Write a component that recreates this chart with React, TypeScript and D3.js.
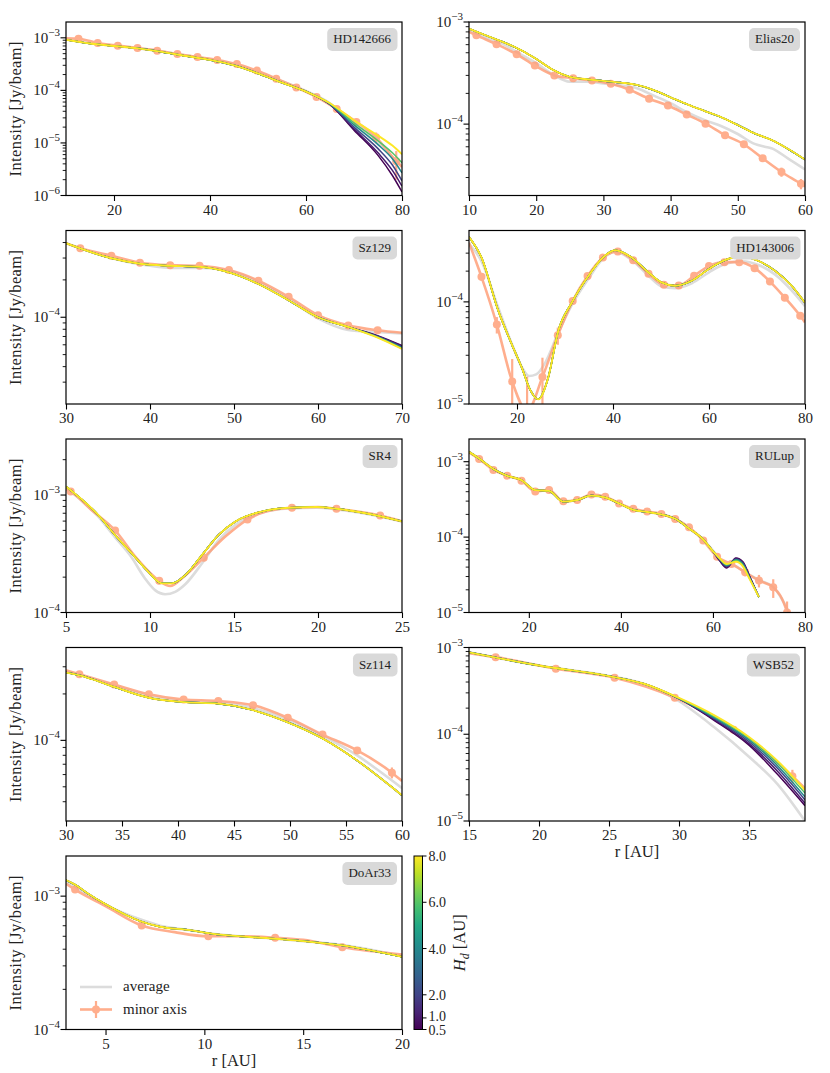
import { useEffect, useRef } from "react";
import * as d3 from "d3";

type Pt = [number, number];
type Mark = [number, number, number]; // r, intensity, error

// scale height values used in the models (colour bar)
const hdValues = [0.5, 1, 2, 4, 6, 8];
const hdTicks = [0.5, 1, 2, 4, 6, 8];

// ---------- HD142666 ----------
const hd142666Avg: Pt[] = [[10, 9.4e-4], [15, 7.9e-4], [20, 7.0e-4], [25, 6.3e-4], [30, 5.5e-4], [35, 4.6e-4], [40, 3.9e-4], [45, 3.1e-4], [50, 2.2e-4], [55, 1.5e-4], [60, 9.8e-5], [65, 5.7e-5], [70, 2.4e-5], [75, 1.0e-5], [80, 3.5e-6]];
const hd142666Model: Pt[] = [[10, 9.2e-4], [15, 7.8e-4], [20, 7.0e-4], [25, 6.3e-4], [30, 5.4e-4], [35, 4.5e-4], [40, 3.8e-4], [45, 3.0e-4], [50, 2.1e-4], [55, 1.4e-4], [60, 9.5e-5]];
const hd142666Tails: Pt[][] = [
    [[65, 5.4e-5], [70, 1.75e-5], [75, 5.8e-6], [78, 2.4e-6], [80, 1.17e-6]],
    [[65, 5.4e-5], [70, 1.85e-5], [75, 6.5e-6], [78, 3.0e-6], [80, 1.5e-6]],
    [[65, 5.5e-5], [70, 2.0e-5], [75, 7.8e-6], [78, 3.8e-6], [80, 1.9e-6]],
    [[65, 5.5e-5], [70, 2.2e-5], [75, 9.3e-6], [78, 5.0e-6], [80, 2.7e-6]],
    [[65, 5.6e-5], [70, 2.4e-5], [75, 1.1e-5], [78, 6.5e-6], [80, 4.2e-6]],
    [[65, 5.7e-5], [70, 2.7e-5], [75, 1.38e-5], [78, 8.9e-6], [80, 6.1e-6]],
];
const hd142666Minor: Pt[] = [[10, 9.8e-4], [12.6, 9.6e-4], [16.6, 8.0e-4], [20.8, 7.1e-4], [24.9, 6.4e-4], [29, 5.7e-4], [33.2, 4.9e-4], [37.4, 4.3e-4], [41.5, 3.8e-4], [45.6, 3.16e-4], [49.75, 2.38e-4], [53.8, 1.67e-4], [58, 1.14e-4], [62.2, 7.5e-5], [66.4, 4.4e-5], [70.5, 2.5e-5], [74.6, 1.28e-5], [78.8, 4.5e-6], [80, 3.5e-6]];
const hd142666Marks: Mark[] = [[12.6, 9.6e-4, 2e-5], [16.6, 8.0e-4, 2e-5], [20.8, 7.1e-4, 2e-5], [24.9, 6.4e-4, 2e-5], [29, 5.7e-4, 2e-5], [33.2, 4.9e-4, 1.5e-5], [37.4, 4.3e-4, 1.5e-5], [41.5, 3.8e-4, 1.5e-5], [45.6, 3.16e-4, 1e-5], [49.75, 2.38e-4, 8e-6], [53.8, 1.67e-4, 6e-6], [58, 1.14e-4, 5e-6], [62.2, 7.5e-5, 4e-6], [66.4, 4.4e-5, 3e-6], [70.5, 2.5e-5, 3e-6], [74.6, 1.28e-5, 3e-6], [78.8, 4.5e-6, 2.5e-6]];

// ---------- Elias20 ----------
const elias20Avg: Pt[] = [[10, 8.3e-4], [12.5, 7.1e-4], [15, 6.1e-4], [17.5, 4.9e-4], [20, 3.95e-4], [22.5, 3.05e-4], [25, 2.6e-4], [27.5, 2.6e-4], [30, 2.5e-4], [32.5, 2.4e-4], [35, 2.25e-4], [37.5, 1.9e-4], [40, 1.6e-4], [42.5, 1.3e-4], [45, 1.1e-4], [47.5, 9.6e-5], [50, 8.0e-5], [52.5, 6.4e-5], [54, 6.0e-5], [55, 5.8e-5], [57.5, 4.6e-5], [60, 3.6e-5]];
const elias20Model: Pt[] = [[10, 8.6e-4], [12.5, 7.4e-4], [15, 6.4e-4], [17.5, 5.4e-4], [20, 4.35e-4], [22.5, 3.4e-4], [25, 2.9e-4], [27.5, 2.75e-4], [30, 2.65e-4], [32.5, 2.55e-4], [35, 2.42e-4], [37.5, 2.15e-4], [40, 1.83e-4], [42.5, 1.56e-4], [45, 1.35e-4], [47.5, 1.17e-4], [50, 9.8e-5], [52.5, 8.1e-5], [55, 7.0e-5], [57.5, 5.7e-5], [60, 4.5e-5]];
const elias20Minor: Pt[] = [[10, 8.0e-4], [11.1, 7.4e-4], [14.1, 6.07e-4], [17.1, 4.83e-4], [19.8, 3.74e-4], [22.7, 3.0e-4], [25.5, 2.82e-4], [28.3, 2.67e-4], [31.1, 2.48e-4], [33.9, 2.17e-4], [36.8, 1.77e-4], [39.6, 1.52e-4], [42.4, 1.24e-4], [45.2, 1.01e-4], [48.1, 7.8e-5], [50.9, 6.35e-5], [53.7, 4.62e-5], [56.5, 3.4e-5], [59.4, 2.6e-5], [60, 2.45e-5]];
const elias20Marks: Mark[] = [[11.1, 7.4e-4, 2.5e-5], [14.1, 6.07e-4, 2.5e-5], [17.1, 4.83e-4, 2e-5], [19.8, 3.74e-4, 2e-5], [22.7, 3.0e-4, 1.5e-5], [25.5, 2.82e-4, 1.5e-5], [28.3, 2.67e-4, 1.5e-5], [31.1, 2.48e-4, 1.2e-5], [33.9, 2.17e-4, 1.2e-5], [36.8, 1.77e-4, 1e-5], [39.6, 1.52e-4, 8e-6], [42.4, 1.24e-4, 7e-6], [45.2, 1.01e-4, 6e-6], [48.1, 7.8e-5, 5e-6], [50.9, 6.35e-5, 4e-6], [53.7, 4.62e-5, 3.5e-6], [56.5, 3.4e-5, 3.5e-6], [59.4, 2.6e-5, 3e-6]];

// ---------- Sz129 ----------
const sz129Avg: Pt[] = [[30, 3.95e-4], [35, 3.05e-4], [40, 2.6e-4], [42.5, 2.5e-4], [46, 2.5e-4], [50, 2.3e-4], [53, 1.9e-4], [56.5, 1.4e-4], [60, 9.8e-5], [63.6, 7.9e-5], [67, 7.6e-5], [70, 7.4e-5]];
const sz129Model: Pt[] = [[30, 3.95e-4], [35.3, 3.0e-4], [38.8, 2.7e-4], [42.4, 2.6e-4], [45.9, 2.55e-4], [49.4, 2.3e-4], [53, 1.84e-4], [56.5, 1.37e-4], [60, 1.0e-4], [63.6, 8.35e-5]];
const sz129Tails: Pt[][] = [
    [[67.1, 7.1e-5], [70, 5.9e-5]],
    [[67.1, 7.05e-5], [70, 5.85e-5]],
    [[67.1, 7.0e-5], [70, 5.75e-5]],
    [[67.1, 6.95e-5], [70, 5.7e-5]],
    [[67.1, 6.9e-5], [70, 5.6e-5]],
    [[67.1, 6.85e-5], [70, 5.55e-5]],
];
const sz129Minor: Pt[] = [[30, 3.95e-4], [31.7, 3.59e-4], [35.4, 3.13e-4], [38.8, 2.75e-4], [42.4, 2.63e-4], [45.9, 2.6e-4], [49.4, 2.4e-4], [52.9, 1.97e-4], [56.5, 1.46e-4], [60, 1.04e-4], [63.6, 8.6e-5], [67.1, 7.85e-5], [70, 7.5e-5]];
const sz129Marks: Mark[] = [[31.7, 3.59e-4, 6e-6], [35.4, 3.13e-4, 5e-6], [38.8, 2.75e-4, 5e-6], [42.4, 2.63e-4, 5e-6], [45.9, 2.6e-4, 5e-6], [49.4, 2.4e-4, 5e-6], [52.9, 1.97e-4, 4e-6], [56.5, 1.46e-4, 4e-6], [60, 1.04e-4, 3e-6], [63.6, 8.6e-5, 3e-6], [67.1, 7.85e-5, 3e-6]];

// ---------- HD143006 ----------
const hd143006Avg: Pt[] = [[10, 3.7e-4], [12.6, 2.5e-4], [16, 9e-5], [19, 3.8e-5], [21, 2.3e-5], [22.5, 1.88e-5], [24, 1.95e-5], [26, 2.6e-5], [28.6, 5.0e-5], [31.4, 9.3e-5], [35, 1.72e-4], [37.6, 2.55e-4], [40.4, 3.1e-4], [44, 2.55e-4], [47.4, 1.8e-4], [50.1, 1.42e-4], [52.9, 1.36e-4], [56.4, 1.52e-4], [60, 1.95e-4], [63.3, 2.35e-4], [66.8, 2.5e-4], [70.3, 2.3e-4], [73.8, 1.85e-4], [77.2, 1.3e-4], [80, 9.1e-5]];
const hd143006Model: Pt[] = [[10, 4.33e-4], [12.6, 2.72e-4], [16.1, 8.2e-5], [18.9, 3.85e-5], [21, 2.27e-5], [22.7, 1.39e-5], [24.4, 1.11e-5], [26.5, 1.81e-5], [28.6, 5.2e-5], [31.4, 9.8e-5], [34.9, 1.8e-4], [37.6, 2.63e-4], [40.4, 3.2e-4], [43.9, 2.72e-4], [47.4, 1.94e-4], [50.1, 1.55e-4], [52.9, 1.44e-4], [56.4, 1.61e-4], [59.9, 2.09e-4], [63.3, 2.56e-4], [66.8, 2.78e-4], [70.3, 2.52e-4], [73.8, 2.01e-4], [77.2, 1.44e-4], [80, 9.8e-5]];
const hd143006Minor: Pt[] = [[10, 3.8e-4], [12.6, 1.76e-4], [15.8, 6.0e-5], [19.0, 1.66e-5], [22.1, 8.5e-6], [25.3, 1.84e-5], [28.5, 4.7e-5], [31.6, 1.02e-4], [34.7, 1.79e-4], [37.9, 2.72e-4], [41.0, 3.11e-4], [44.2, 2.56e-4], [47.4, 1.89e-4], [50.6, 1.47e-4], [53.7, 1.45e-4], [56.9, 1.8e-4], [60.0, 2.24e-4], [63.2, 2.45e-4], [66.3, 2.45e-4], [69.5, 2.14e-4], [72.7, 1.58e-4], [75.8, 1.1e-4], [79.0, 7.3e-5], [80, 6.3e-5]];
const hd143006Marks: Mark[] = [[12.6, 1.76e-4, 1.5e-5], [15.8, 6.0e-5, 1.1e-5], [19.0, 1.66e-5, 1.1e-5], [22.1, 8.5e-6, 1.0e-5], [25.3, 1.84e-5, 1.0e-5], [28.5, 4.7e-5, 9e-6], [31.6, 1.02e-4, 8e-6], [34.7, 1.79e-4, 7e-6], [37.9, 2.72e-4, 7e-6], [41.0, 3.11e-4, 7e-6], [44.2, 2.56e-4, 6e-6], [47.4, 1.89e-4, 6e-6], [50.6, 1.47e-4, 5e-6], [53.7, 1.45e-4, 5e-6], [56.9, 1.8e-4, 5e-6], [60.0, 2.24e-4, 5e-6], [63.2, 2.45e-4, 5e-6], [66.3, 2.45e-4, 5e-6], [69.5, 2.14e-4, 5e-6], [72.7, 1.58e-4, 5e-6], [75.8, 1.1e-4, 5e-6], [79.0, 7.3e-5, 5e-6]];

// ---------- SR4 ----------
const sr4Avg: Pt[] = [[5, 1.15e-3], [6.9, 6.6e-4], [7.9, 4.4e-4], [8.9, 2.95e-4], [9.7, 1.95e-4], [10.3, 1.55e-4], [10.9, 1.43e-4], [11.5, 1.5e-4], [12.1, 1.74e-4], [13.1, 2.63e-4], [14.1, 4.16e-4], [15.1, 5.6e-4], [16.5, 7.0e-4], [18.3, 7.7e-4], [19.9, 7.8e-4], [21.1, 7.55e-4], [22.9, 6.9e-4], [25, 5.95e-4]];
const sr4Model: Pt[] = [[5, 1.18e-3], [6.9, 6.8e-4], [7.9, 4.6e-4], [8.9, 3.2e-4], [9.9, 2.22e-4], [10.7, 1.77e-4], [11.3, 1.77e-4], [12.1, 2.08e-4], [13.1, 3.09e-4], [14.1, 4.6e-4], [15.1, 5.97e-4], [16.5, 7.15e-4], [18.3, 7.8e-4], [19.9, 7.9e-4], [21.1, 7.64e-4], [22.9, 6.97e-4], [25, 5.97e-4]];
const sr4Minor: Pt[] = [[5, 1.12e-3], [5.28, 1.07e-3], [6.5, 7.5e-4], [7.92, 5.0e-4], [9.2, 2.9e-4], [10.55, 1.86e-4], [11.2, 1.68e-4], [12, 2.01e-4], [13.2, 2.93e-4], [14.5, 4.45e-4], [15.8, 6.18e-4], [17, 7.3e-4], [18.45, 7.8e-4], [20, 7.9e-4], [21.1, 7.64e-4], [23.7, 6.68e-4], [25, 5.97e-4]];
const sr4Marks: Mark[] = [[5.28, 1.07e-3, 2e-5], [7.92, 5.0e-4, 1.2e-5], [10.55, 1.86e-4, 1.2e-5], [13.2, 2.93e-4, 1e-5], [15.8, 6.18e-4, 1.2e-5], [18.45, 7.8e-4, 1.2e-5], [21.1, 7.64e-4, 1.2e-5], [23.7, 6.68e-4, 1.2e-5]];

// ---------- RULup ----------
const rulupAvg: Pt[] = [[7, 1.35e-3], [9.2, 1.1e-3], [12.3, 8.0e-4], [15.3, 6.5e-4], [18.4, 5.7e-4], [21.4, 4.2e-4], [24.4, 4.1e-4], [27.5, 2.95e-4], [30.5, 3.1e-4], [33.6, 3.55e-4], [36.6, 3.35e-4], [39.6, 2.8e-4], [42.7, 2.3e-4], [45.7, 2.15e-4], [48.8, 2.0e-4], [51.8, 1.75e-4], [54.8, 1.3e-4], [57.9, 9.3e-5], [60, 6.6e-5], [61.5, 5.1e-5], [63, 4.4e-5], [65, 4.1e-5], [67, 3.4e-5], [70, 2.7e-5], [73, 2.2e-5], [75, 1.5e-5], [76.5, 1.0e-5], [77.5, 7e-6]];
const rulupModel: Pt[] = [[7, 1.35e-3], [9.2, 1.1e-3], [12.3, 8.0e-4], [15.3, 6.5e-4], [18.4, 5.7e-4], [21.4, 4.2e-4], [24.4, 4.1e-4], [27.5, 2.95e-4], [30.5, 3.1e-4], [33.6, 3.55e-4], [36.6, 3.35e-4], [39.6, 2.8e-4], [42.7, 2.3e-4], [45.7, 2.15e-4], [48.8, 2.0e-4], [51.8, 1.75e-4], [54.8, 1.3e-4], [57.9, 9.3e-5], [60, 6.5e-5]];
const rulupTails: Pt[][] = [
    [[61.5, 4.8e-5], [63, 3.9e-5], [65, 5.3e-5], [66.5, 4.7e-5], [68, 3.0e-5], [70, 1.6e-5]],
    [[61.5, 4.9e-5], [63, 4.0e-5], [65, 5.2e-5], [66.5, 4.6e-5], [68, 2.95e-5], [70, 1.6e-5]],
    [[61.5, 5.0e-5], [63, 4.1e-5], [65, 5.1e-5], [66.5, 4.5e-5], [68, 2.9e-5], [70, 1.6e-5]],
    [[61.5, 5.1e-5], [63, 4.2e-5], [65, 5.0e-5], [66.5, 4.4e-5], [68, 2.85e-5], [70, 1.6e-5]],
    [[61.5, 5.15e-5], [63, 4.3e-5], [65, 4.9e-5], [66.5, 4.25e-5], [68, 2.8e-5], [70, 1.6e-5]],
    [[61.5, 5.2e-5], [63, 4.4e-5], [65, 4.7e-5], [66.5, 4.1e-5], [68, 2.75e-5], [70, 1.6e-5]],
];
const rulupMinor: Pt[] = [[7, 1.33e-3], [9.2, 1.09e-3], [12.3, 7.76e-4], [15.3, 6.53e-4], [18.4, 5.6e-4], [21.4, 4.04e-4], [24.4, 4.22e-4], [27.5, 2.98e-4], [30.5, 3.11e-4], [33.6, 3.66e-4], [36.6, 3.44e-4], [39.6, 2.8e-4], [42.7, 2.37e-4], [45.7, 2.18e-4], [48.8, 2.03e-4], [51.8, 1.74e-4], [54.8, 1.35e-4], [57.9, 9.0e-5], [60.9, 5.5e-5], [64, 4.4e-5], [67, 3.42e-5], [70, 2.65e-5], [73.1, 2.16e-5], [76.1, 1.0e-5], [77, 6e-6]];
const rulupMarks: Mark[] = [[9.2, 1.09e-3, 3e-5], [12.3, 7.76e-4, 2.5e-5], [15.3, 6.53e-4, 2e-5], [18.4, 5.6e-4, 2e-5], [21.4, 4.04e-4, 1.5e-5], [24.4, 4.22e-4, 1.5e-5], [27.5, 2.98e-4, 1.2e-5], [30.5, 3.11e-4, 1.2e-5], [33.6, 3.66e-4, 1.2e-5], [36.6, 3.44e-4, 1.2e-5], [39.6, 2.8e-4, 1e-5], [42.7, 2.37e-4, 1e-5], [45.7, 2.18e-4, 8e-6], [48.8, 2.03e-4, 8e-6], [51.8, 1.74e-4, 7e-6], [54.8, 1.35e-4, 6e-6], [57.9, 9.0e-5, 5e-6], [60.9, 5.5e-5, 4e-6], [64, 4.4e-5, 4e-6], [67, 3.42e-5, 4e-6], [70, 2.65e-5, 5e-6], [73.1, 2.16e-5, 6e-6], [76.1, 1.0e-5, 4e-6]];

// ---------- Sz114 ----------
const sz114Avg: Pt[] = [[30, 2.8e-4], [31.2, 2.66e-4], [34.3, 2.26e-4], [37.4, 1.94e-4], [40.5, 1.8e-4], [43.6, 1.76e-4], [46.7, 1.62e-4], [49.8, 1.36e-4], [52.9, 1.07e-4], [56, 8.0e-5], [58, 6.3e-5], [60, 4.9e-5]];
const sz114Model: Pt[] = [[30, 2.75e-4], [31.2, 2.64e-4], [34.3, 2.22e-4], [37.4, 1.89e-4], [40.5, 1.77e-4], [43.6, 1.73e-4], [46.7, 1.57e-4], [49.8, 1.31e-4], [52.9, 1.03e-4], [56, 7.4e-5], [59.1, 4.97e-5], [60, 4.4e-5]];
const sz114Minor: Pt[] = [[30, 2.85e-4], [31.2, 2.68e-4], [34.3, 2.3e-4], [37.4, 1.99e-4], [40.5, 1.84e-4], [43.6, 1.8e-4], [46.7, 1.69e-4], [49.8, 1.4e-4], [52.9, 1.09e-4], [56, 8.6e-5], [59.1, 6.17e-5], [60, 5.45e-5]];
const sz114Marks: Mark[] = [[31.2, 2.68e-4, 5e-6], [34.3, 2.3e-4, 5e-6], [37.4, 1.99e-4, 4e-6], [40.5, 1.84e-4, 4e-6], [43.6, 1.8e-4, 4e-6], [46.7, 1.69e-4, 4e-6], [49.8, 1.4e-4, 4e-6], [52.9, 1.09e-4, 4e-6], [56, 8.6e-5, 4e-6], [59.1, 6.17e-5, 5e-6]];

// ---------- WSB52 ----------
const wsb52Avg: Pt[] = [[15, 8.8e-4], [20, 6.2e-4], [25, 4.7e-4], [27.5, 3.8e-4], [30, 2.4e-4], [32.5, 1.21e-4], [35, 5.5e-5], [37, 2.7e-5], [39, 1.0e-5]];
const wsb52Model: Pt[] = [[15, 8.8e-4], [20, 6.2e-4], [25, 4.68e-4], [27.5, 3.82e-4]];
const wsb52Tails: Pt[][] = [
    [[30, 2.57e-4], [32.5, 1.45e-4], [35, 7.5e-5], [37, 3.5e-5], [39, 1.5e-5]],
    [[30, 2.57e-4], [32.5, 1.48e-4], [35, 7.8e-5], [37, 3.8e-5], [39, 1.6e-5]],
    [[30, 2.57e-4], [32.5, 1.52e-4], [35, 8.2e-5], [37, 4.1e-5], [39, 1.75e-5]],
    [[30, 2.58e-4], [32.5, 1.56e-4], [35, 8.6e-5], [37, 4.4e-5], [39, 1.9e-5]],
    [[30, 2.6e-4], [32.5, 1.61e-4], [35, 9.0e-5], [37, 4.7e-5], [39, 2.1e-5]],
    [[30, 2.62e-4], [32.5, 1.66e-4], [35, 9.3e-5], [37, 5.0e-5], [39, 2.27e-5]],
];
const wsb52Minor: Pt[] = [[15, 8.6e-4], [16.9, 7.74e-4], [21.2, 5.69e-4], [25.4, 4.48e-4], [29.7, 2.64e-4], [33.9, 1.13e-4], [38.1, 3.29e-5], [39, 2.38e-5]];
const wsb52Marks: Mark[] = [[16.9, 7.74e-4, 3e-5], [21.2, 5.69e-4, 2.5e-5], [25.4, 4.48e-4, 2e-5], [29.7, 2.64e-4, 1.2e-5], [33.9, 1.13e-4, 6e-6], [38.1, 3.29e-5, 6e-6]];

// ---------- DoAr33 ----------
const doar33Avg: Pt[] = [[3, 1.28e-3], [3.46, 1.18e-3], [4.05, 1.04e-3], [5.02, 8.6e-4], [6.75, 6.7e-4], [7.76, 6.0e-4], [9.28, 5.55e-4], [10.12, 5.3e-4], [13.58, 4.8e-4], [15, 4.6e-4], [17, 4.3e-4], [20, 3.55e-4]];
const doar33Model: Pt[] = [[3, 1.32e-3], [3.46, 1.22e-3], [4.05, 1.06e-3], [5.02, 8.67e-4], [6.75, 6.5e-4], [7.76, 5.9e-4], [9.28, 5.56e-4], [10.12, 5.3e-4], [13.58, 4.79e-4], [15, 4.6e-4], [17, 4.27e-4], [20, 3.51e-4]];
const doar33Minor: Pt[] = [[3, 1.24e-3], [3.46, 1.12e-3], [5.02, 8.4e-4], [6.83, 6.03e-4], [8.5, 5.37e-4], [10.2, 5.0e-4], [12, 5.0e-4], [13.58, 4.88e-4], [15, 4.7e-4], [16.98, 4.14e-4], [20, 3.65e-4]];
const doar33Marks: Mark[] = [[3.46, 1.12e-3, 5e-5], [6.83, 6.03e-4, 2e-5], [10.2, 5.0e-4, 1.5e-5], [13.58, 4.88e-4, 1.5e-5], [16.98, 4.14e-4, 1.2e-5]];

type Panel = {
    name: string;
    col: number;
    row: number;
    xDomain: [number, number];
    yDomain: [number, number];
    xTicks: number[];
    avg: Pt[];
    model: Pt[];
    tails?: Pt[][];
    minor: Pt[];
    marks: Mark[];
    xLabel?: boolean;
    legend?: boolean;
};

const panels: Panel[] = [
    { name: "HD142666", col: 0, row: 0, xDomain: [10, 80], yDomain: [1e-6, 2e-3], xTicks: [20, 40, 60, 80], avg: hd142666Avg, model: hd142666Model, tails: hd142666Tails, minor: hd142666Minor, marks: hd142666Marks },
    { name: "Elias20", col: 1, row: 0, xDomain: [10, 60], yDomain: [2e-5, 1e-3], xTicks: [10, 20, 30, 40, 50, 60], avg: elias20Avg, model: elias20Model, minor: elias20Minor, marks: elias20Marks },
    { name: "Sz129", col: 0, row: 1, xDomain: [30, 70], yDomain: [2e-5, 5e-4], xTicks: [30, 40, 50, 60, 70], avg: sz129Avg, model: sz129Model, tails: sz129Tails, minor: sz129Minor, marks: sz129Marks },
    { name: "HD143006", col: 1, row: 1, xDomain: [10, 80], yDomain: [1e-5, 5e-4], xTicks: [20, 40, 60, 80], avg: hd143006Avg, model: hd143006Model, minor: hd143006Minor, marks: hd143006Marks },
    { name: "SR4", col: 0, row: 2, xDomain: [5, 25], yDomain: [1e-4, 3e-3], xTicks: [5, 10, 15, 20, 25], avg: sr4Avg, model: sr4Model, minor: sr4Minor, marks: sr4Marks },
    { name: "RULup", col: 1, row: 2, xDomain: [7, 80], yDomain: [1e-5, 2e-3], xTicks: [20, 40, 60, 80], avg: rulupAvg, model: rulupModel, tails: rulupTails, minor: rulupMinor, marks: rulupMarks },
    { name: "Sz114", col: 0, row: 3, xDomain: [30, 60], yDomain: [3e-5, 4e-4], xTicks: [30, 35, 40, 45, 50, 55, 60], avg: sz114Avg, model: sz114Model, minor: sz114Minor, marks: sz114Marks },
    { name: "WSB52", col: 1, row: 3, xDomain: [15, 39], yDomain: [1e-5, 1e-3], xTicks: [15, 20, 25, 30, 35], avg: wsb52Avg, model: wsb52Model, tails: wsb52Tails, minor: wsb52Minor, marks: wsb52Marks, xLabel: true },
    { name: "DoAr33", col: 0, row: 4, xDomain: [3, 20], yDomain: [1e-4, 2e-3], xTicks: [5, 10, 15, 20], avg: doar33Avg, model: doar33Model, minor: doar33Minor, marks: doar33Marks, xLabel: true, legend: true },
];

const colX = [66, 469];
const rowY = [22, 230.5, 439, 647.5, 856];
const panelW = 336;
const panelH = 173.5;

const FONT = "'Liberation Serif', 'DejaVu Serif', serif";
const salmon = "#ffa07a";
const avgColor = "#dcdcdc";
const hdColor = (hd: number) => d3.interpolateViridis((hd - 0.5) / 7.5);

export default function App() {
    const svgRef = useRef<SVGSVGElement | null>(null);

    useEffect(() => {
        const svg = d3.select(svgRef.current!);
        svg.selectAll("*").remove();
        const defs = svg.append("defs");

        panels.forEach((p, pi) => {
            const g = svg.append("g").attr("transform", `translate(${colX[p.col]},${rowY[p.row]})`);
            const x = d3.scaleLinear().domain(p.xDomain).range([0, panelW]);
            const y = d3.scaleLog().domain(p.yDomain).range([panelH, 0]);

            defs.append("clipPath").attr("id", `clip${pi}`)
                .append("rect").attr("width", panelW).attr("height", panelH);
            const plot = g.append("g").attr("clip-path", `url(#clip${pi})`);

            const line = d3.line<Pt>()
                .x((d) => x(d[0]))
                .y((d) => y(d[1]))
                .curve(d3.curveMonotoneX);

            // average profile
            plot.append("path")
                .attr("d", line(p.avg)!)
                .attr("fill", "none")
                .attr("stroke", avgColor)
                .attr("stroke-width", 2.6);

            // minor axis profile with error bars
            const minorG = plot.append("g").attr("opacity", 0.85);
            minorG.append("path")
                .attr("d", line(p.minor)!)
                .attr("fill", "none")
                .attr("stroke", salmon)
                .attr("stroke-width", 2.6);
            p.marks.forEach(([r, v, e]) => {
                const lo = v - e > 0 ? v - e : p.yDomain[0] * 0.3;
                minorG.append("line")
                    .attr("x1", x(r)).attr("x2", x(r))
                    .attr("y1", y(lo)).attr("y2", y(v + e))
                    .attr("stroke", salmon).attr("stroke-width", 2.2);
                minorG.append("circle")
                    .attr("cx", x(r)).attr("cy", y(v)).attr("r", 4)
                    .attr("fill", salmon);
            });

            // models for each scale height (last one a bit wider so it covers the rest where they coincide)
            hdValues.forEach((hd, i) => {
                const pts = p.tails ? p.model.concat(p.tails[i]) : p.model;
                plot.append("path")
                    .attr("d", line(pts)!)
                    .attr("fill", "none")
                    .attr("stroke", hdColor(hd))
                    .attr("stroke-width", i === hdValues.length - 1 ? 1.9 : 1.5);
            });

            // frame
            g.append("rect")
                .attr("width", panelW).attr("height", panelH)
                .attr("fill", "none").attr("stroke", "#000").attr("stroke-width", 1.2);

            // x axis
            const xa = g.append("g").attr("transform", `translate(0,${panelH})`)
                .call(d3.axisBottom(x).tickValues(p.xTicks).tickSize(5.5).tickPadding(3).tickFormat((d) => `${d}`));
            xa.select(".domain").remove();
            xa.selectAll("line").attr("stroke-width", 1.1);
            xa.selectAll("text").attr("font-family", FONT).attr("font-size", 15).attr("fill", "#222");

            // y axis (log): major and minor ticks
            const [y0, y1] = p.yDomain;
            const majors: number[] = [];
            const minors: number[] = [];
            for (let k = Math.floor(Math.log10(y0)); k <= Math.ceil(Math.log10(y1)); k++) {
                const base = Math.pow(10, k);
                if (base >= y0 * 0.999 && base <= y1 * 1.001) majors.push(k);
                for (let m = 2; m <= 9; m++) {
                    const v = m * base;
                    if (v > y0 * 1.001 && v < y1 * 0.999) minors.push(v);
                }
            }
            minors.forEach((v) => {
                g.append("line").attr("x1", -3.3).attr("x2", 0)
                    .attr("y1", y(v)).attr("y2", y(v))
                    .attr("stroke", "#000").attr("stroke-width", 0.9);
            });
            majors.forEach((k) => {
                const yy = y(Math.pow(10, k));
                g.append("line").attr("x1", -5.5).attr("x2", 0)
                    .attr("y1", yy).attr("y2", yy)
                    .attr("stroke", "#000").attr("stroke-width", 1.1);
                const t = g.append("text")
                    .attr("x", -6).attr("y", yy + 5)
                    .attr("text-anchor", "end")
                    .attr("font-family", FONT).attr("font-size", 15).attr("fill", "#222");
                t.append("tspan").text("10");
                t.append("tspan").attr("dy", -7).attr("font-size", 11).text(`\u2212${-k}`);
            });

            // name box
            const label = g.append("g");
            const txt = label.append("text")
                .attr("x", panelW - 11).attr("y", 21)
                .attr("text-anchor", "end")
                .attr("font-family", FONT).attr("font-size", 13).attr("fill", "#222")
                .text(p.name);
            const bb = (txt.node() as SVGTextElement).getBBox();
            label.insert("rect", "text")
                .attr("x", bb.x - 6).attr("y", 6)
                .attr("width", bb.width + 12).attr("height", 23)
                .attr("rx", 5)
                .attr("fill", "#d9d9d9");

            // y label on the left column
            if (p.col === 0) {
                g.append("text")
                    .attr("transform", `translate(${21 - colX[0]},${panelH / 2}) rotate(-90)`)
                    .attr("text-anchor", "middle")
                    .attr("font-family", FONT).attr("font-size", 16.5)
                    .attr("letter-spacing", 0.4).attr("fill", "#222")
                    .text("Intensity [Jy/beam]");
            }
            if (p.xLabel) {
                g.append("text")
                    .attr("x", panelW / 2).attr("y", panelH + 36)
                    .attr("text-anchor", "middle")
                    .attr("font-family", FONT).attr("font-size", 16.5).attr("fill", "#222")
                    .text("r [AU]");
            }

            if (p.legend) {
                const lg = g.append("g").attr("font-family", FONT).attr("font-size", 15).attr("fill", "#222");
                lg.append("line").attr("x1", 14).attr("x2", 46).attr("y1", 131).attr("y2", 131)
                    .attr("stroke", avgColor).attr("stroke-width", 2.6);
                lg.append("text").attr("x", 57).attr("y", 135).text("average");
                const mg = lg.append("g").attr("opacity", 0.85);
                mg.append("line").attr("x1", 14).attr("x2", 46).attr("y1", 153.5).attr("y2", 153.5)
                    .attr("stroke", salmon).attr("stroke-width", 2.6);
                mg.append("line").attr("x1", 30).attr("x2", 30).attr("y1", 145).attr("y2", 162)
                    .attr("stroke", salmon).attr("stroke-width", 2.2);
                mg.append("circle").attr("cx", 30).attr("cy", 153.5).attr("r", 4).attr("fill", salmon);
                lg.append("text").attr("x", 57).attr("y", 158).text("minor axis");
            }
        });

        // colour bar for H_d
        const cbX = 414;
        const cbW = 8.5;
        const cbTop = rowY[4];
        const cb = d3.scaleLinear().domain([0.5, 8]).range([cbTop + panelH, cbTop]);
        const grad = defs.append("linearGradient").attr("id", "cbgrad")
            .attr("x1", "0%").attr("y1", "100%").attr("x2", "0%").attr("y2", "0%");
        d3.range(0, 1.0001, 0.1).forEach((t) => {
            grad.append("stop").attr("offset", `${t * 100}%`).attr("stop-color", d3.interpolateViridis(t));
        });
        svg.append("rect")
            .attr("x", cbX).attr("y", cbTop).attr("width", cbW).attr("height", panelH)
            .attr("fill", "url(#cbgrad)").attr("stroke", "#000").attr("stroke-width", 1);
        hdTicks.forEach((v) => {
            svg.append("line")
                .attr("x1", cbX + cbW).attr("x2", cbX + cbW + 4)
                .attr("y1", cb(v)).attr("y2", cb(v))
                .attr("stroke", "#000").attr("stroke-width", 1);
            svg.append("text")
                .attr("x", cbX + cbW + 6).attr("y", cb(v) + (v === 1 ? 3.5 : 5))
                .attr("font-family", FONT).attr("font-size", 14).attr("fill", "#222")
                .text(v.toFixed(1));
        });
        const cbl = svg.append("text")
            .attr("transform", `translate(465,${cbTop + panelH / 2}) rotate(-90)`)
            .attr("text-anchor", "middle")
            .attr("font-family", FONT).attr("font-size", 16.5).attr("fill", "#222");
        cbl.append("tspan").attr("font-style", "italic").text("H");
        cbl.append("tspan").attr("font-style", "italic").attr("font-size", 12).attr("dy", 4).text("d");
        cbl.append("tspan").attr("dy", -4).text(" [AU]");
    }, []);

    return (
        <svg
            ref={svgRef}
            width={830}
            height={1073}
            style={{ position: "absolute", left: 0, top: 0, background: "#fff" }}
        />
    );
}
